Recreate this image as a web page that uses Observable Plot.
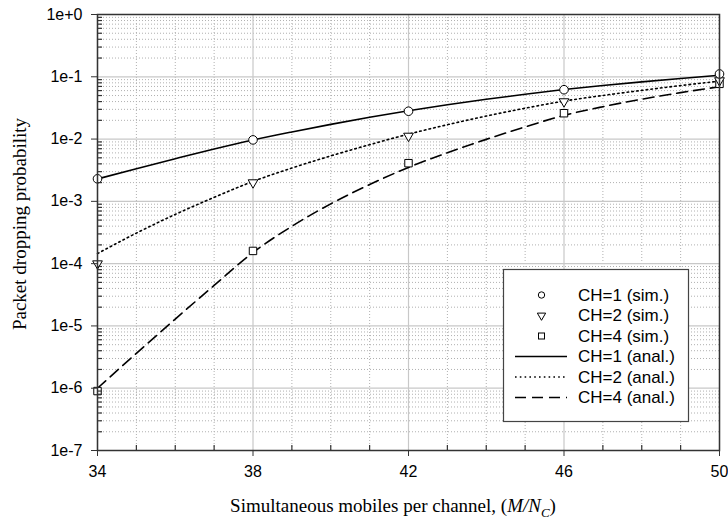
<!DOCTYPE html>
<html><head><meta charset="utf-8">
<script src="https://cdn.jsdelivr.net/npm/d3@7"></script>
<script src="https://cdn.jsdelivr.net/npm/@observablehq/plot@0.6"></script>
<style>
body{margin:0;background:#fff;}
#chart{position:relative;width:728px;height:526px;}
</style></head><body><div id="chart"></div>
<script>
// ---- data ----
const xSim = [34, 38, 42, 46, 50];
const simCH1 = [2.3e-3, 9.7e-3, 2.8e-2, 6.2e-2, 0.111];
const simCH2 = [1.0e-4, 2.0e-3, 1.12e-2, 4.0e-2, 0.087];
const simCH4 = [9e-7, 1.6e-4, 4.1e-3, 2.6e-2, 0.077];

const xAnal = [34,35,36,37,38,39,40,41,42,43,44,45,46,47,48,49,50];
const analCH1 = [2.29e-3,3.35e-3,4.84e-3,6.92e-3,9.66e-3,1.30e-2,1.72e-2,2.24e-2,2.85e-2,3.55e-2,4.35e-2,5.25e-2,6.24e-2,7.24e-2,8.28e-2,9.40e-2,0.106];
const analCH2 = [1.45e-4,3.09e-4,6.17e-4,1.16e-3,2.09e-3,3.43e-3,5.37e-3,8.13e-3,1.20e-2,1.70e-2,2.34e-2,3.13e-2,4.07e-2,5.01e-2,6.05e-2,7.23e-2,8.51e-2];
const analCH4 = [1.0e-6,3.63e-6,1.29e-5,4.47e-5,1.51e-4,3.98e-4,9.12e-4,1.86e-3,3.51e-3,6.03e-3,9.89e-3,1.57e-2,2.40e-2,3.31e-2,4.37e-2,5.56e-2,6.92e-2];

const xTicks = [34, 38, 42, 46, 50];
const xMinor = [35,36,37,39,40,41,43,44,45,47,48,49];
const yTicks = [1e-7, 1e-6, 1e-5, 1e-4, 1e-3, 1e-2, 1e-1, 1];
const yTickLabels = ["1e-7","1e-6","1e-5","1e-4","1e-3","1e-2","1e-1","1e+0"];
const yMinor = [];
for (let k = -7; k < 0; k++) for (let m = 2; m <= 9; m++) yMinor.push(m * Math.pow(10, k));

const legendLabels = ["CH=1 (sim.)","CH=2 (sim.)","CH=4 (sim.)","CH=1 (anal.)","CH=2 (anal.)","CH=4 (anal.)"];

// ---- tables ----
const sim = (vals) => xSim.map((x, i) => ({x, y: vals[i]}));
const anal = (vals) => xAnal.map((x, i) => ({x, y: vals[i]}));

const triDown = {draw(ctx, size){
  const y = Math.sqrt(size / (3 * Math.sqrt(3)));
  const s = Math.sqrt(3) * y;
  ctx.moveTo(0, 2 * y); ctx.lineTo(-s, -y); ctx.lineTo(s, -y); ctx.closePath();
}};

const sans = "'Liberation Sans', Arial, Helvetica, sans-serif";
const serif = "'Liberation Serif', 'Times New Roman', serif";

const chart = Plot.plot({
  width: 728, height: 526,
  marginLeft: 97, marginRight: 9, marginTop: 14, marginBottom: 76,
  x: {domain: [34, 50]},
  y: {type: "log", domain: [1e-7, 1]},
  style: {fontFamily: sans, fontSize: "16px", color: "#000", background: "#fff"},
  marks: [
    Plot.ruleX(xMinor, {stroke: "#b0b0b0", strokeDasharray: "1,2", strokeWidth: 1}),
    Plot.ruleY(yMinor, {stroke: "#b0b0b0", strokeDasharray: "1,2", strokeWidth: 1}),
    Plot.ruleX(xTicks, {stroke: "#c8c8c8", strokeWidth: 1.2}),
    Plot.ruleY(yTicks, {stroke: "#c8c8c8", strokeWidth: 1.2}),
    Plot.line(anal(analCH1), {x: "x", y: "y", curve: "monotone-x", stroke: "#000", strokeWidth: 1.6}),
    Plot.line(anal(analCH2), {x: "x", y: "y", curve: "monotone-x", stroke: "#000", strokeWidth: 1.6, strokeDasharray: "1.6,3.2"}),
    Plot.line(anal(analCH4), {x: "x", y: "y", curve: "monotone-x", stroke: "#000", strokeWidth: 1.6, strokeDasharray: "11,6"}),
    Plot.dot(sim(simCH4), {x: "x", y: "y", symbol: "square", r: 4.2, stroke: "#000", fill: "#fff", strokeWidth: 1}),
    Plot.dot(sim(simCH2), {x: "x", y: "y", symbol: triDown, r: 3.6, stroke: "#000", fill: "#fff", strokeWidth: 1}),
    Plot.dot(sim(simCH1), {x: "x", y: "y", symbol: "circle", r: 4.3, stroke: "#000", fill: "#fff", strokeWidth: 1}),
    Plot.frame({stroke: "#333", strokeWidth: 1.5}),
    Plot.tickX(xMinor, {x: d => d, insetTop: 431, stroke: "#333", strokeWidth: 1.2}),
    Plot.tickY(yMinor, {y: d => d, insetRight: 617, stroke: "#333", strokeWidth: 1.2}),
    Plot.axisX({ticks: xTicks, tickSize: 6, tickPadding: 9, tickFormat: d => String(d), label: null, fontSize: 16, stroke: "#333"}),
    Plot.axisY({ticks: yTicks, tickSize: 6, tickPadding: 9, tickFormat: d => yTickLabels[yTicks.indexOf(d)], label: null, fontSize: 16, stroke: "#333"})
  ]
});
document.getElementById("chart").appendChild(chart);

const svg = d3.select(chart);
// y axis title
svg.append("text")
  .attr("transform", "translate(19,224) rotate(-90)")
  .attr("text-anchor", "middle").attr("dy", "0.35em")
  .attr("font-family", serif).attr("font-size", 19).attr("fill", "#000")
  .text("Packet dropping probability");
// x axis title
const xt = svg.append("text")
  .attr("x", 393).attr("y", 512).attr("text-anchor", "middle")
  .attr("font-family", serif).attr("font-size", 19).attr("fill", "#000");
xt.append("tspan").text("Simultaneous mobiles per channel, (");
xt.append("tspan").attr("font-style", "italic").text("M/N");
xt.append("tspan").attr("font-style", "italic").attr("font-size", 13).attr("dy", 5).text("C");
xt.append("tspan").attr("dy", -5).text(")");

// legend
const lg = svg.append("g").attr("text-anchor", "start");
lg.append("rect").attr("x", 503.5).attr("y", 269.5).attr("width", 185).attr("height", 152)
  .attr("fill", "#fff").attr("stroke", "#444").attr("stroke-width", 1.2);
const rowY = i => 295 + i * 20.5;
const symX = 541.5;
lg.append("circle").attr("cx", symX).attr("cy", rowY(0)).attr("r", 3.2).attr("fill", "#fff").attr("stroke", "#000");
lg.append("path").attr("d", d3.symbol(triDown, 30)()).attr("transform", `translate(${symX},${rowY(1)})`).attr("fill", "#fff").attr("stroke", "#000");
lg.append("rect").attr("x", symX - 3).attr("y", rowY(2) - 3).attr("width", 6).attr("height", 6).attr("fill", "#fff").attr("stroke", "#000");
const dashes = [null, "1.6,3.2", "11,6"];
dashes.forEach((da, k) => {
  const l = lg.append("line").attr("x1", 515).attr("x2", 567).attr("y1", rowY(3 + k)).attr("y2", rowY(3 + k))
    .attr("stroke", "#000").attr("stroke-width", 1.6);
  if (da) l.attr("stroke-dasharray", da);
});
legendLabels.forEach((t, i) => {
  lg.append("text").attr("x", 578).attr("y", rowY(i)).attr("dy", "0.35em").attr("text-anchor", "start")
    .attr("font-family", sans).attr("font-size", 17).attr("fill", "#000").text(t);
});
</script></body></html>
